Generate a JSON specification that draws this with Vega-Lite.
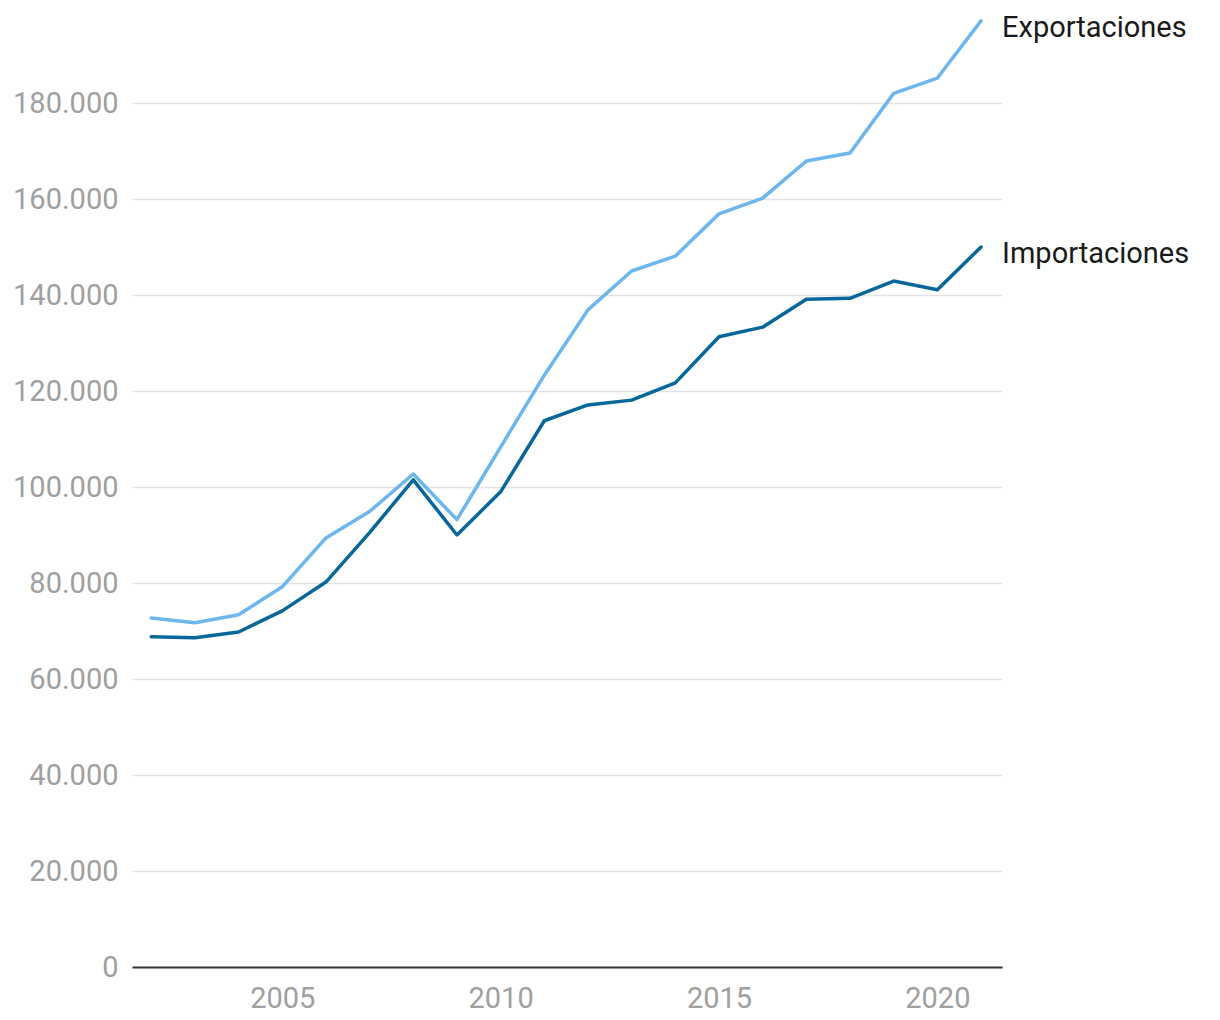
{
  "$schema": "https://vega.github.io/schema/vega-lite/v6.json",
  "width": 870,
  "height": 960,
  "autosize": {"type": "none"},
  "padding": {"left": 132, "top": 7, "right": 218, "bottom": 53},
  "background": "white",
  "config": {
    "view": {"stroke": null},
    "font": "Roboto"
  },
  "data": {
    "values": [
      {"year": 2002, "serie": "Exportaciones", "valor": 72700},
      {"year": 2003, "serie": "Exportaciones", "valor": 71700},
      {"year": 2004, "serie": "Exportaciones", "valor": 73400},
      {"year": 2005, "serie": "Exportaciones", "valor": 79200},
      {"year": 2006, "serie": "Exportaciones", "valor": 89400},
      {"year": 2007, "serie": "Exportaciones", "valor": 94900},
      {"year": 2008, "serie": "Exportaciones", "valor": 102700},
      {"year": 2009, "serie": "Exportaciones", "valor": 93200},
      {"year": 2010, "serie": "Exportaciones", "valor": 108300},
      {"year": 2011, "serie": "Exportaciones", "valor": 123300},
      {"year": 2012, "serie": "Exportaciones", "valor": 136900},
      {"year": 2013, "serie": "Exportaciones", "valor": 145000},
      {"year": 2014, "serie": "Exportaciones", "valor": 148100},
      {"year": 2015, "serie": "Exportaciones", "valor": 156900},
      {"year": 2016, "serie": "Exportaciones", "valor": 160200},
      {"year": 2017, "serie": "Exportaciones", "valor": 167900},
      {"year": 2018, "serie": "Exportaciones", "valor": 169600},
      {"year": 2019, "serie": "Exportaciones", "valor": 182000},
      {"year": 2020, "serie": "Exportaciones", "valor": 185200},
      {"year": 2021, "serie": "Exportaciones", "valor": 197100},
      {"year": 2002, "serie": "Importaciones", "valor": 68800},
      {"year": 2003, "serie": "Importaciones", "valor": 68600},
      {"year": 2004, "serie": "Importaciones", "valor": 69800},
      {"year": 2005, "serie": "Importaciones", "valor": 74200},
      {"year": 2006, "serie": "Importaciones", "valor": 80200},
      {"year": 2007, "serie": "Importaciones", "valor": 90500},
      {"year": 2008, "serie": "Importaciones", "valor": 101500},
      {"year": 2009, "serie": "Importaciones", "valor": 90000},
      {"year": 2010, "serie": "Importaciones", "valor": 99000},
      {"year": 2011, "serie": "Importaciones", "valor": 113800},
      {"year": 2012, "serie": "Importaciones", "valor": 117100},
      {"year": 2013, "serie": "Importaciones", "valor": 118100},
      {"year": 2014, "serie": "Importaciones", "valor": 121700},
      {"year": 2015, "serie": "Importaciones", "valor": 131300},
      {"year": 2016, "serie": "Importaciones", "valor": 133300},
      {"year": 2017, "serie": "Importaciones", "valor": 139100},
      {"year": 2018, "serie": "Importaciones", "valor": 139300},
      {"year": 2019, "serie": "Importaciones", "valor": 142900},
      {"year": 2020, "serie": "Importaciones", "valor": 141100},
      {"year": 2021, "serie": "Importaciones", "valor": 150000}
    ]
  },
  "encoding": {
    "x": {
      "field": "year",
      "type": "quantitative",
      "scale": {"domain": [2001.56, 2021.48], "nice": false, "zero": false},
      "axis": {
        "title": null,
        "values": [2005, 2010, 2015, 2020],
        "format": "d",
        "grid": false,
        "ticks": false,
        "domain": true,
        "domainColor": "#333333",
        "domainWidth": 2,
        "labelColor": "#a0a0a0",
        "labelFontSize": 29,
        "labelPadding": 17,
        "zindex": 2
      }
    },
    "y": {
      "field": "valor",
      "type": "quantitative",
      "scale": {"domain": [0, 200000], "nice": false},
      "axis": {
        "title": null,
        "values": [0, 20000, 40000, 60000, 80000, 100000, 120000, 140000, 160000, 180000],
        "labelExpr": "replace(format(datum.value, ',.0f'), ',', '.')",
        "domain": false,
        "ticks": false,
        "gridColor": "#e3e3e3",
        "gridWidth": 1.5,
        "labelColor": "#a0a0a0",
        "labelFontSize": 29,
        "labelPadding": 14,
        "labelBaseline": "middle"
      }
    },
    "color": {
      "field": "serie",
      "type": "nominal",
      "scale": {"domain": ["Exportaciones", "Importaciones"], "range": ["#6db6ee", "#07679b"]},
      "legend": null
    }
  },
  "layer": [
    {
      "mark": {"type": "line", "strokeWidth": 3.5, "strokeJoin": "round", "strokeCap": "round"}
    },
    {
      "transform": [{"filter": "datum.year == 2021"}],
      "mark": {"type": "text", "align": "left", "baseline": "middle", "dx": 21, "dy": 7, "fontSize": 29, "color": "#1a1a1a"},
      "encoding": {
        "text": {"field": "serie"},
        "color": {"value": "#1a1a1a"}
      }
    }
  ]
}
